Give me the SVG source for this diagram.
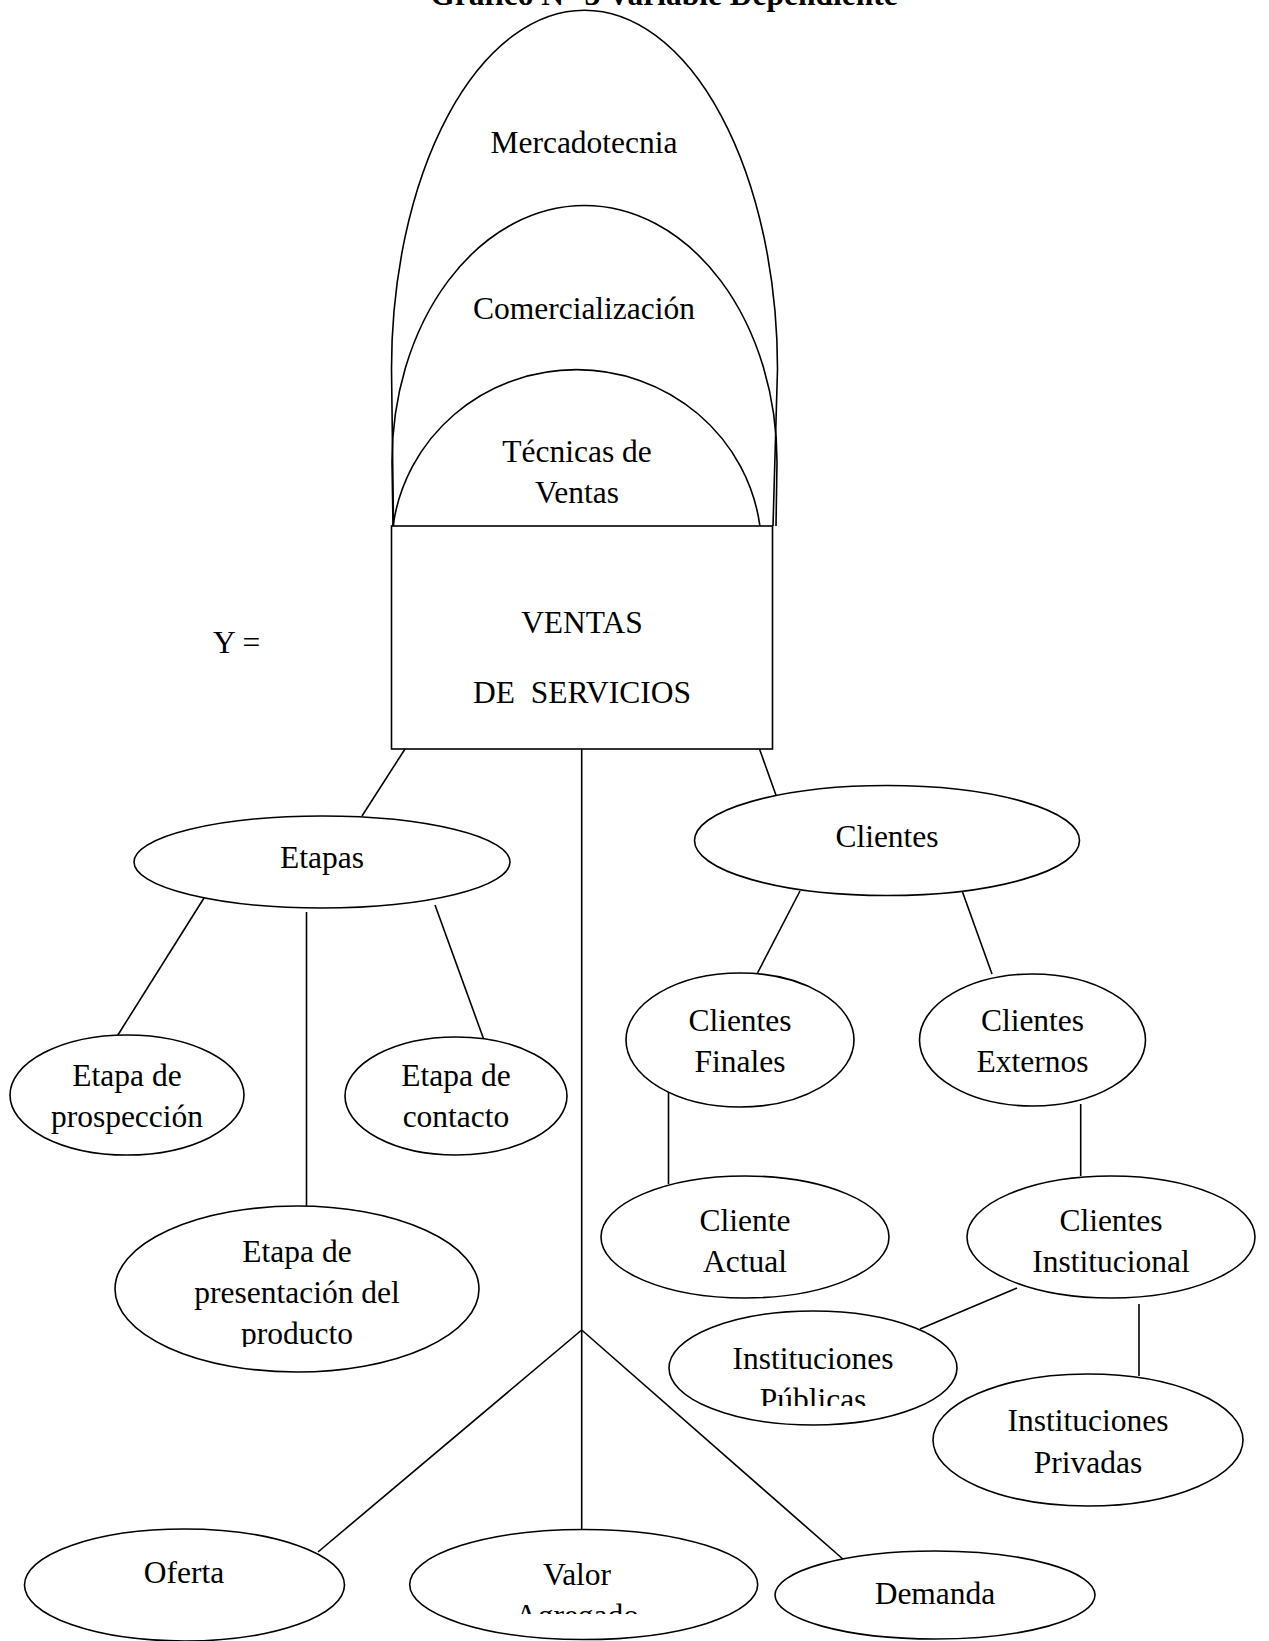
<svg xmlns="http://www.w3.org/2000/svg" width="1269" height="1641" viewBox="0 0 1269 1641">
<style>
.s{fill:none;stroke:#000;stroke-width:1.6}
.n{fill:#fff;stroke:#000;stroke-width:1.6}
text{font-family:"Liberation Serif","Times New Roman",serif;font-size:31.5px;fill:#000;text-anchor:middle}
.t{font-weight:bold}
</style>
<defs>
<clipPath id="cpProd"><rect x="100" y="1200" width="400" height="147"/></clipPath>
<clipPath id="cpPub"><rect x="660" y="1310" width="320" height="96"/></clipPath>
<clipPath id="cpAgr"><rect x="400" y="1530" width="370" height="84"/></clipPath>
</defs>
<rect width="1269" height="1641" fill="#fff"/>
<text class="t" x="664" y="5">Gráfico  N° 3 Variable Dependiente</text>

<g id="connectors" class="s">
<line x1="405" y1="749" x2="362" y2="816"/>
<line x1="581.7" y1="749" x2="581.7" y2="1530"/>
<line x1="759.5" y1="749" x2="777" y2="798"/>
<line x1="204" y1="898" x2="116" y2="1038"/>
<line x1="306.5" y1="912" x2="306.5" y2="1206"/>
<line x1="435" y1="905" x2="484" y2="1040"/>
<line x1="800" y1="891" x2="757" y2="974"/>
<line x1="962.5" y1="892" x2="992" y2="974"/>
<line x1="668.5" y1="1089" x2="668.5" y2="1184"/>
<line x1="1080.7" y1="1104" x2="1080.7" y2="1176"/>
<line x1="1017" y1="1288" x2="920" y2="1329"/>
<line x1="1139" y1="1304" x2="1139" y2="1376"/>
<line x1="581.7" y1="1330" x2="318" y2="1552"/>
<line x1="581.7" y1="1330" x2="844" y2="1560"/>
</g>

<g id="mercadotecnia">
<path class="s" d="M393.5 526 L391.5 369 A193 359 0 0 1 777.5 369 L773 526"/>
<text x="584" y="153">Mercadotecnia</text>
</g>
<g id="comercializacion">
<path class="s" d="M393 526 L392 462 A192.5 256.5 0 0 1 777 462 L776 526"/>
<text x="584" y="319">Comercialización</text>
</g>
<g id="tecnicas">
<path class="s" d="M393.1 526 A185 180 0 0 1 759.9 526"/>
<text x="577" y="462">Técnicas de</text>
<text x="577" y="503">Ventas</text>
</g>
<g id="ventas">
<rect class="n" x="391.5" y="526" width="381" height="223"/>
<text x="582" y="633">VENTAS</text>
<text x="582" y="703" xml:space="preserve">DE  SERVICIOS</text>
</g>
<g id="y-label">
<text x="213" y="653" style="text-anchor:start">Y =</text>
</g>

<g id="etapas">
<ellipse class="n" cx="322" cy="862" rx="188" ry="46"/>
<text x="322" y="868">Etapas</text>
</g>
<g id="prospeccion">
<ellipse class="n" cx="127" cy="1095" rx="117" ry="60"/>
<text x="127" y="1086">Etapa de</text>
<text x="127" y="1127">prospección</text>
</g>
<g id="contacto">
<ellipse class="n" cx="456" cy="1096" rx="111" ry="59"/>
<text x="456" y="1086">Etapa de</text>
<text x="456" y="1127">contacto</text>
</g>
<g id="presentacion">
<ellipse class="n" cx="297" cy="1289" rx="182" ry="83"/>
<g clip-path="url(#cpProd)">
<text x="297" y="1262">Etapa de</text>
<text x="297" y="1303">presentación del</text>
<text x="297" y="1344">producto</text>
</g>
</g>

<g id="clientes">
<ellipse class="n" cx="887" cy="840.5" rx="192.5" ry="55"/>
<text x="887" y="847">Clientes</text>
</g>
<g id="finales">
<ellipse class="n" cx="740" cy="1040" rx="114" ry="67"/>
<text x="740" y="1031">Clientes</text>
<text x="740" y="1072">Finales</text>
</g>
<g id="externos">
<ellipse class="n" cx="1032.5" cy="1040" rx="113" ry="66"/>
<text x="1032.5" y="1031">Clientes</text>
<text x="1032.5" y="1072">Externos</text>
</g>
<g id="actual">
<ellipse class="n" cx="745" cy="1237" rx="144" ry="61"/>
<text x="745" y="1231">Cliente</text>
<text x="745" y="1272">Actual</text>
</g>
<g id="institucional">
<ellipse class="n" cx="1111" cy="1237" rx="144" ry="61"/>
<text x="1111" y="1231">Clientes</text>
<text x="1111" y="1272">Institucional</text>
</g>
<g id="publicas">
<ellipse class="n" cx="813" cy="1368" rx="144" ry="57"/>
<g clip-path="url(#cpPub)">
<text x="813" y="1369">Instituciones</text>
<text x="813" y="1410">Públicas</text>
</g>
</g>
<g id="privadas">
<ellipse class="n" cx="1088" cy="1440" rx="155" ry="66"/>
<text x="1088" y="1431">Instituciones</text>
<text x="1088" y="1473">Privadas</text>
</g>

<g id="oferta">
<ellipse class="n" cx="184.5" cy="1585" rx="160" ry="56"/>
<text x="184" y="1583">Oferta</text>
</g>
<g id="valor">
<ellipse class="n" cx="583.7" cy="1584.5" rx="174" ry="55"/>
<g clip-path="url(#cpAgr)">
<text x="577" y="1585">Valor</text>
<text x="577" y="1626">Agregado</text>
</g>
</g>
<g id="demanda">
<ellipse class="n" cx="935" cy="1595" rx="160" ry="44"/>
<text x="935" y="1604">Demanda</text>
</g>
</svg>
